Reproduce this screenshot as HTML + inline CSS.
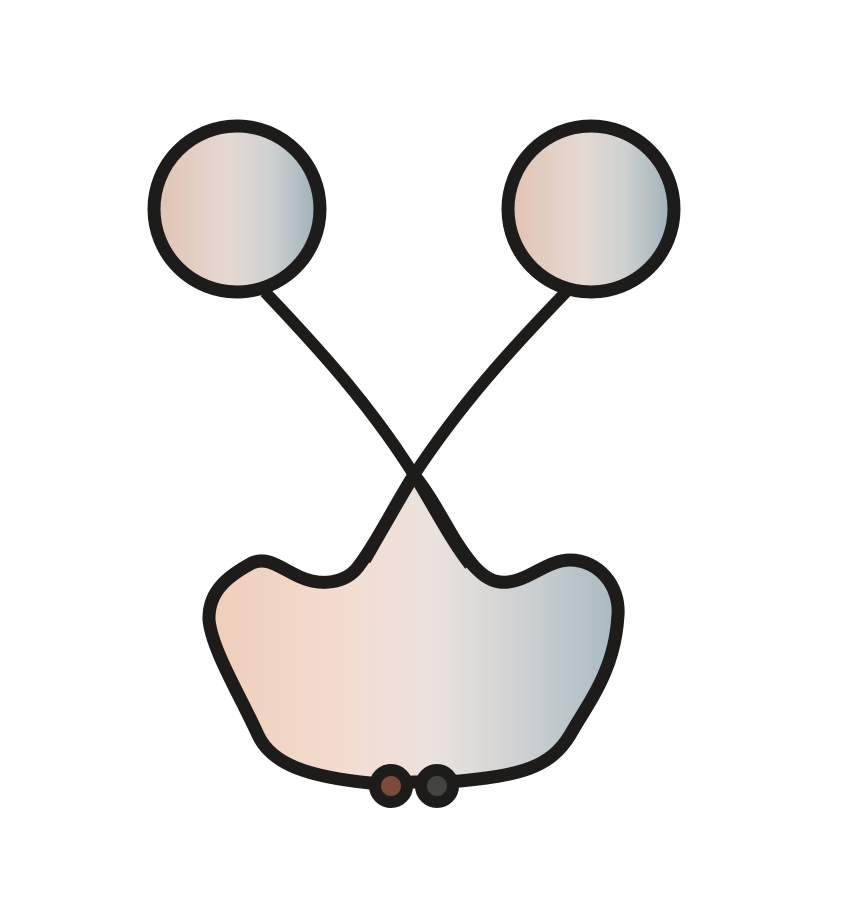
<!DOCTYPE html>
<html><head><meta charset="utf-8"><style>html,body{margin:0;padding:0;background:#fff}svg{display:block}</style></head>
<body>
<svg width="855" height="898" viewBox="0 0 855 898">
<defs>
<linearGradient id="gb" x1="205" y1="0" x2="622" y2="0" gradientUnits="userSpaceOnUse">
<stop offset="0" stop-color="#efcdb9"/><stop offset="0.35" stop-color="#f2ddd2"/><stop offset="0.55" stop-color="#ebe2dd"/><stop offset="0.75" stop-color="#cfd2d3"/><stop offset="1" stop-color="#a7b9c1"/></linearGradient>
<linearGradient id="gc" x1="0" y1="0" x2="1" y2="0">
<stop offset="0" stop-color="#e0c2b3"/><stop offset="0.45" stop-color="#e5d9d2"/><stop offset="0.7" stop-color="#cfd1d1"/><stop offset="1" stop-color="#9cafb7"/></linearGradient>
</defs>
<path fill="url(#gb)" stroke="#1d1c1a" stroke-width="13" stroke-linejoin="round"
d="M414,475 C395,505 375,545 358,567 C345,584 320,586 300,577 C280,568 268,556 252,563 C230,575 208,590 209,620 C212,650 240,695 258,735 C272,765 310,777 370,783 L460,781 C520,775 550,768 570,735 C590,700 615,670 618,615 C620,585 598,560 570,560 C545,560 525,585 500,582 C480,580 465,555 455,540 C440,515 430,495 414,475 Z"/>
<path d="M265,292 C320,350 370,405 414,475 C430,500 450,540 470,565" fill="none" stroke="#1d1c1a" stroke-width="12"/>
<path d="M566,292 C510,350 460,405 414,475 C395,505 380,535 365,560" fill="none" stroke="#1d1c1a" stroke-width="12"/>
<circle cx="237" cy="209" r="83" fill="url(#gc)" stroke="#1d1c1a" stroke-width="13"/>
<circle cx="591" cy="209" r="83" fill="url(#gc)" stroke="#1d1c1a" stroke-width="13"/>
<circle cx="391" cy="786" r="16" fill="#7a4a3a" stroke="#1d1c1a" stroke-width="12"/>
<circle cx="437" cy="786" r="16" fill="#444442" stroke="#1d1c1a" stroke-width="12"/>
</svg>
</body></html>
